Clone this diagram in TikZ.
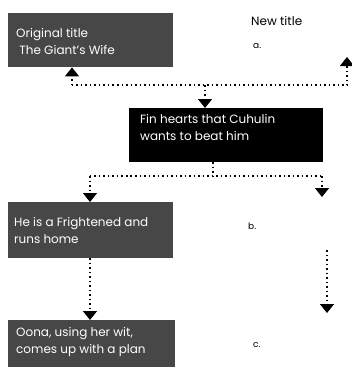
\documentclass[tikz,border=0pt]{standalone}
\usepackage{fontspec}
\setmainfont{Poppins}
\usetikzlibrary{arrows.meta}
\tikzset{
  tbox/.style={fill=black!72, anchor=north west, inner sep=0pt},
  bbox/.style={fill=black, anchor=north west, inner sep=0pt},
  btxt/.style={anchor=west, text=white, align=left, inner sep=0pt, font=\fontsize{12}{17}\selectfont},
  conn/.style={line width=1.5pt, dash pattern=on 1.5pt off 3pt},
  tip/.style={-{Triangle[width=14pt,length=9pt]}},
  lbl/.style={font=\fontsize{9}{11}\selectfont, anchor=west, inner sep=0pt}
}
\begin{document}
\begin{tikzpicture}[x=1pt,y=-1pt]
\useasboundingbox (0,0) rectangle (352,368);
% boxes
\node[tbox, minimum width=165pt, minimum height=54pt] (box1) at (8,13) {};
\node[btxt] (t1txt) at (16,41) {Original title\\\ The Giant's Wife};
\node[bbox, minimum width=194pt, minimum height=54pt] (box2) at (129,108) {};
\node[btxt] (t2txt) at (140,127) {Fin hearts that Cuhulin\\wants to beat him};
\node[tbox, minimum width=165pt, minimum height=56pt] (box3) at (8,202) {};
\node[btxt] (t3txt) at (14,230) {He is a Frightened and\\runs home};
\node[tbox, minimum width=167pt, minimum height=47pt] (box4) at (8,320) {};
\node[btxt] (t4txt) at (16,342) {Oona, using her wit,\\comes up with a plan};
% labels
\node[lbl, font=\fontsize{12}{14}\selectfont] (newtitle) at (251,21) {New title};
\node[lbl] (la) at (253,46) {a.};
\node[lbl] (lb) at (248,226) {b.};
\node[lbl] (lc) at (253,345) {c.};
% coordinates
\coordinate (h1) at (72,85);
\coordinate (h2) at (347,85);
\coordinate (na) at (347,57);
\coordinate (h3) at (205,85);
\coordinate (s2) at (213,176);
\coordinate (l2) at (90,176);
\coordinate (r2) at (322,176);
\coordinate (nb) at (322,197);
\coordinate (c1) at (327,250);
\coordinate (c2) at (327,313);
\coordinate (m3) at (90,258);
% connectors
\draw[conn, tip] (h1) -- (h1 |- box1.south);
\draw[conn, tip] (h1) -- (h2) -- (na);
\draw[conn, tip] (h3) -- (h3 |- box2.north);
\draw[conn] (s2 |- box2.south) -- (s2);
\draw[conn] (l2) -- (r2);
\draw[conn, tip] (l2) -- (l2 |- box3.north);
\draw[conn, tip] (r2) -- (nb);
\draw[conn, tip] (m3 |- box3.south) -- (m3 |- box4.north);
\draw[conn, tip] (c1) -- (c2);
\end{tikzpicture}
\end{document}
